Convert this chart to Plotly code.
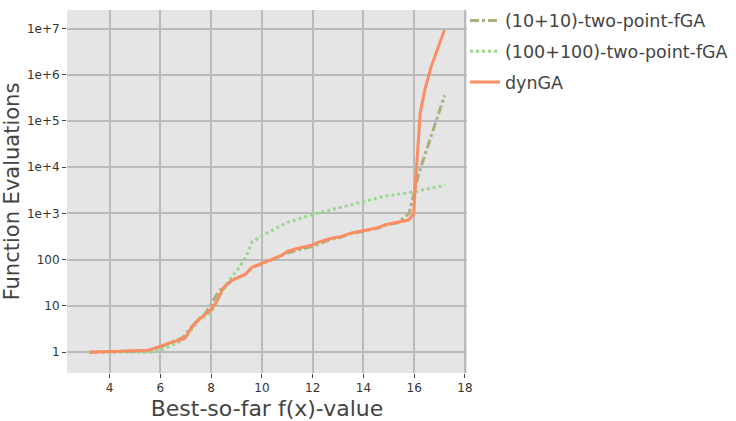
import plotly.graph_objects as go

# ---- data ----
x_dyn = [3.2, 5.52, 6.0, 6.34, 6.96, 7.21, 7.48, 7.71, 8.0, 8.2, 8.47, 8.82, 9.34, 9.6,
         10.0, 10.51, 10.77, 11.0, 11.42, 12.0, 12.2, 12.72, 13.11, 13.5, 14.0, 14.55,
         14.87, 15.33, 15.78, 15.98, 16.03, 16.24, 16.43, 16.67, 17.19]
y_dyn = [1.0, 1.1, 1.34, 1.57, 1.98, 3.3, 4.9, 6.1, 8.4, 12, 24, 36, 48, 68,
         83, 109, 124, 151, 177, 209, 238, 290, 315, 375, 420, 490,
         575, 640, 720, 980, 3200, 155000, 500000, 1.5e6, 9.3e6]

x_10 = [3.2, 5.5, 6.0, 6.4, 6.9, 7.2, 7.5, 7.75, 8.0, 8.3, 8.5, 8.85, 9.35, 9.6,
        10.0, 10.5, 11.0, 11.5, 12.0, 12.7, 13.1, 13.5, 14.0, 14.55, 14.9, 15.35,
        15.8, 16.18, 17.2]
y_10 = [1.0, 1.08, 1.3, 1.6, 2.1, 3.4, 5.2, 6.6, 10.8, 21, 26, 37, 48, 68,
        82, 105, 140, 165, 195, 275, 305, 365, 415, 480,
        565, 630, 1000, 7300, 360000]

x_100 = [3.2, 5.6, 6.0, 6.73, 7.0, 7.48, 8.0, 8.3, 8.7, 9.08, 9.4, 9.6, 10.0, 10.51,
         11.03, 12.0, 12.72, 13.5, 14.0, 14.8, 16.0, 17.22]
y_100 = [1.0, 1.0, 1.1, 1.65, 2.05, 4.8, 7.2, 15, 36, 65, 124, 238, 330, 455,
         650, 950, 1200, 1550, 1770, 2340, 2950, 4100]

names = ["(10+10)-two-point-fGA", "(100+100)-two-point-fGA", "dynGA"]
colors = ["#adad7e", "#9ad88e", "#fc8d62"]
dashes = ["dashdot", "dot", "solid"]

y_tickvals = [1, 10, 100, 1e3, 1e4, 1e5, 1e6, 1e7]
y_ticktext = ["1", "10", "100", "1e+3", "1e+4", "1e+5", "1e+6", "1e+7"]
x_tickvals = [4, 6, 8, 10, 12, 14, 16, 18]

fig = go.Figure()
for i, (xs, ys, nm, c, d) in enumerate(zip([x_10, x_100, x_dyn], [y_10, y_100, y_dyn],
                                            names, colors, dashes)):
    fig.add_trace(go.Scatter(x=xs, y=ys, mode="lines", name=nm, legendgroup=f"g{i}",
                             line=dict(color=c, width=3, dash=d)))

fig.add_vline(x=10, line=dict(color="white", width=2), layer="below")

fig.update_layout(
    width=736, height=421,
    margin=dict(l=67, r=266, t=3, b=48),
    paper_bgcolor="white", plot_bgcolor="#e5e5e5",
    font=dict(family="DejaVu Sans", color="#444"),
    legend=dict(x=0.995, y=1.02, xanchor="left", yanchor="top",
                font=dict(size=17.5, color="#444"), bgcolor="rgba(0,0,0,0)",
                tracegroupgap=5),
    xaxis=dict(range=[2.32, 18.08], tickvals=x_tickvals,
               title=dict(text="Best-so-far f(x)-value", font=dict(size=22, color="#444"), standoff=6),
               showgrid=True, gridcolor="#bababa", gridwidth=2,
               ticks="outside", ticklen=4, tickcolor="#444", tickwidth=1,
               tickfont=dict(size=12, color="#333"), zeroline=False, showline=False),
    yaxis=dict(type="log", range=[-0.45, 7.4], tickvals=y_tickvals, ticktext=y_ticktext,
               title=dict(text="Function Evaluations", font=dict(size=21, color="#444"), standoff=1),
               showgrid=True, gridcolor="#bababa", gridwidth=2,
               ticks="outside", ticklen=4, tickcolor="#444", tickwidth=1,
               tickfont=dict(size=12, color="#333"), zeroline=False, showline=False),
)

fig.write_html("out.html")
